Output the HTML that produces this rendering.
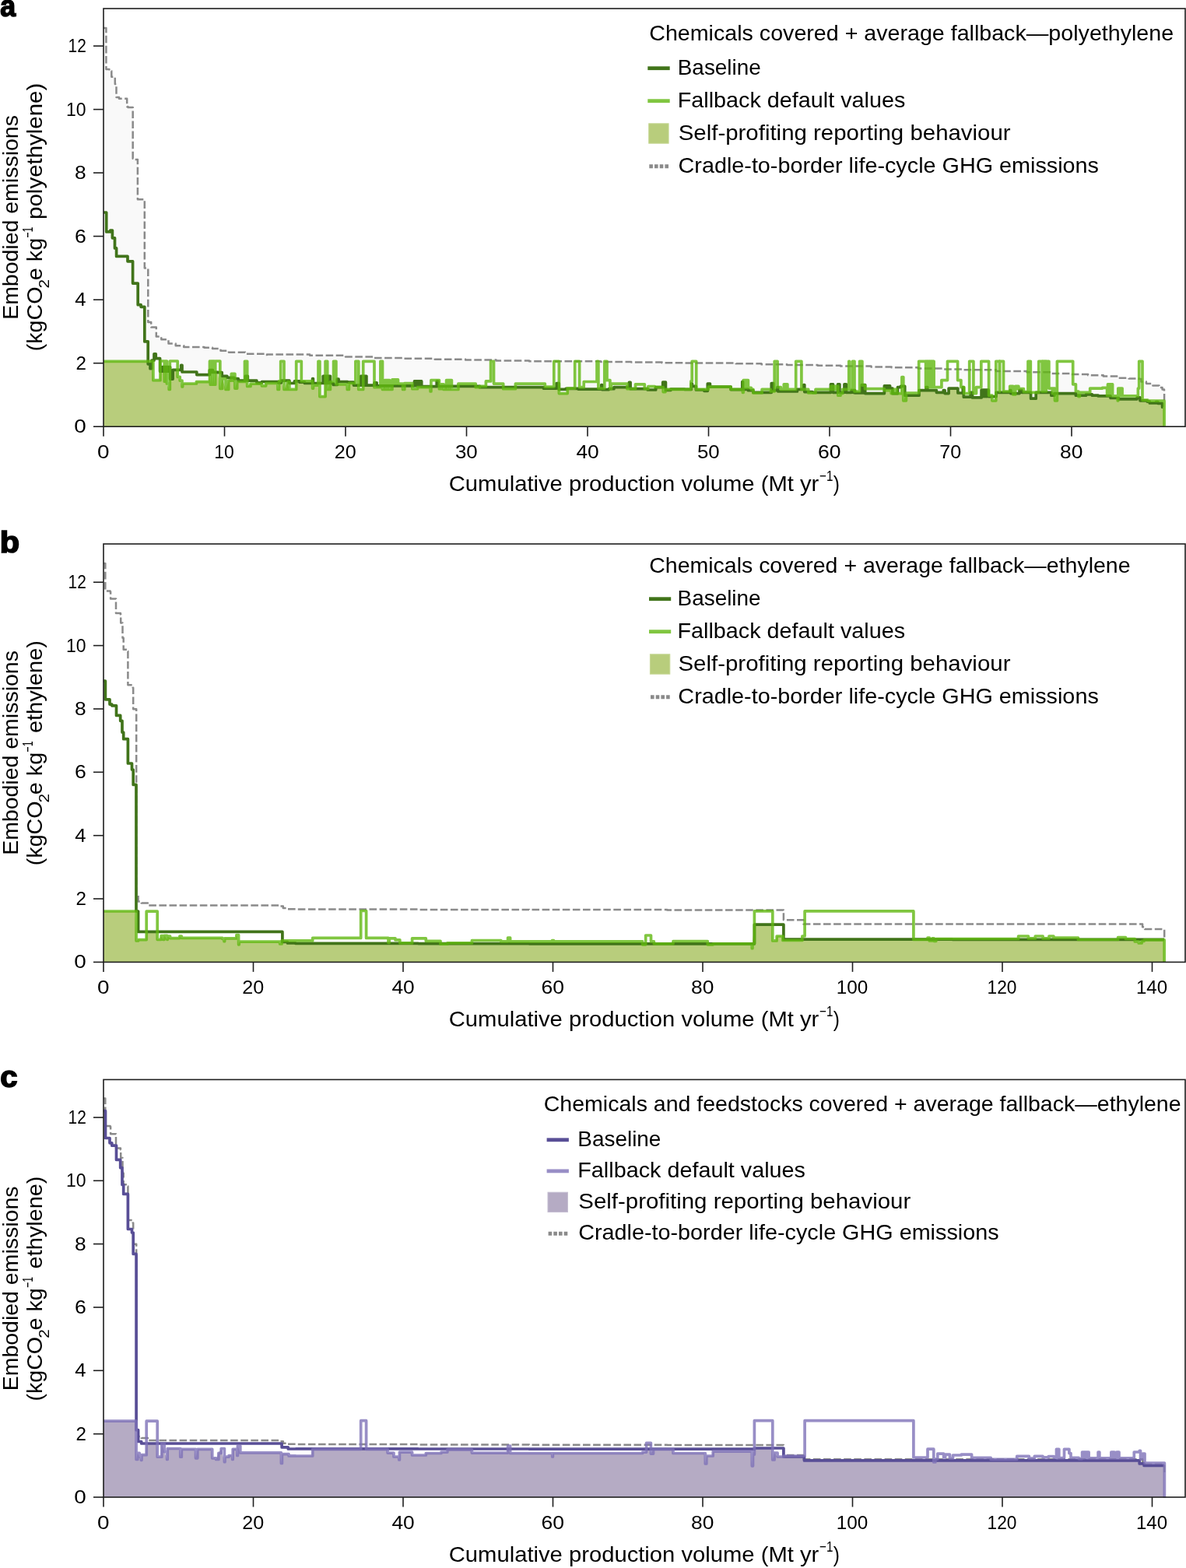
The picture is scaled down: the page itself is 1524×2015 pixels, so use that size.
<!DOCTYPE html>
<html lang="en"><head><meta charset="utf-8"><title>Embodied emissions vs cumulative production volume</title>
<style>html,body{margin:0;padding:0;background:#fff}svg{display:block}text{font-family:"Liberation Sans", Arial, sans-serif;fill:#000}</style></head><body>
<svg width="1524" height="2015" viewBox="0 0 1524 2015">
<rect width="1524" height="2015" fill="#fff"/>
<g>
<path d="M133 36H136.4V89.1H140.4V91.3H143.3V98.8H147.8V107.9H149.5V125H153V126.7H163.2V137H164.4V138.1H170.7V203.8H172.9V204.9H176.9V256.3H185.8V344.4H190.3V414H194.2V420.6H200.8V432.4H207.3V436.3H216.5V441.5H225.7V444.2H236.2V446H262.5V446.8H273V448.1H283.5V450.7H294V452.8H315V454.7H341.2V456H343V455.5H398.1V456.8H444V458.4H480V459.9H519.4V460.7H558.7V461.7H598.1V462.6H637.5V463.6H680V464.3H771.9V464.9H811.2V465.6H850.6V466.2H880V466.5H945.6V467.3H978.4V468.2H1011.2V468.9H1050.6V469.7H1080V470.4H1119.4V471.5H1145.6V472.2H1179.7V473.5H1211.2V474.4H1237.5V475.2H1280V477H1319.4V478.3H1350.9V480H1374.5V481.1H1398.1V482.3H1417.8V483.6H1437.5V485.7H1450.6V486.6H1463.7V487H1466.4V490.5H1472.9V492.5H1473.2V493.1H1481.4V495.6H1489.5V498H1493.6V500.4H1496V502.9H1496.1V514.3H1496.1 V548.2 H133 Z" fill="#f9f9f9"/>
<path d="M133 548.2L133 464.3L188.7 464.3L190.2 467.8L193 473.7L195 464.3L196.9 488.7L204.5 488.7L206 477.2L208.7 471.7L210.9 477.2L211.3 490.2L212.1 471.7L213.3 477.2L213.9 471.7L214.4 493L217.2 500.5L218.3 471.7L218.6 487.1L222.1 475.3L226.7 475.3L228.2 484.3L231.2 489.1L234 496.9L234.6 493L250.9 493L252.4 490.6L268 490.6L269.5 475.7L270.3 494.2L271.5 478.4L271.6 475.7L272.9 494.2L274.3 478.4L275.5 494.2L276.7 478.4L280 478.7L282.8 499.3L285.7 486.7L290 500.5L293.7 489.1L297.3 485.3L299.3 489.1L299.9 485.3L301 486.6L301.9 499.1L304.7 490.5L313 490.5L314.5 489.2L315.2 483.3L317.7 496.4L322 493.1L334.9 493.1L336.4 495.8L340.2 495.8L341.7 492.5L355.5 492.5L357 500.4L358.5 491.8L361.4 489.2L365 500.4L369.2 490.5L371.9 500.4L379.2 500.4L380.7 489.9L385 491.2L390 491.2L391.5 492.5L400.1 492.5L401.6 499.1L402.5 495.1L407.5 495.1L409 492.5L410.9 509.6L416.6 509.6L418.1 483.3L419.5 492.5L420.1 483.3L420.7 500.4L424.4 492.5L428.3 494.5L431.8 494.5L433.3 493.8L444.8 493.8L446.3 500.4L448.4 492.5L453 492.5L454.5 495.1L459.3 495.1L460.8 500.4L465.2 500.4L466.7 483.3L468.2 495.1L468.8 483.3L470.9 495.1L479.5 495.1L481 497.7L487.4 497.7L488.9 495.8L491.5 500.4L494.4 495.8L496.2 500.4L496.8 495.8L498.2 500.4L498.8 495.8L500.6 500.4L504 495.8L516.1 495.8L517.6 500.4L519.8 495.8L528.4 495.8L529.9 499.7L534.9 499.7L536.4 497.7L551.6 497.7L553.1 503L553.9 496.7L559.7 496.7L561.2 489.9L562.9 496.4L564.4 499.7L564.9 496.4L567.2 499.7L567.8 496.4L570.1 500.4L573.6 496.4L575.6 500.4L576.2 496.4L577.8 500.4L578.4 496.4L580.4 500.4L587.4 500.4L588.9 496.4L609.7 496.4L611.2 497.7L645.2 497.7L646.7 499.7L660.9 499.7L662.4 497.7L696.9 497.7L698.4 499.1L713.7 499.1L715.2 492.5L718.3 500.4L718.4 505.6L727.7 505.6L729.2 499.3L741.5 499.3L743 500.1L771.3 500.1L772.8 499.1L773.6 500.6L780.9 500.6L782.4 499.7L787.4 499.7L788.9 497.7L804.5 497.7L806 499.7L830.7 499.7L832.2 501L841.2 501L842.7 497.7L850.2 497.7L851.7 497.5L852.2 503.6L855 500.4L855.4 501.4L860.3 501.4L861.8 500.4L886.8 500.4L888.3 493.1L889.4 496.4L892.9 496.4L894.4 501L903.4 501L904.9 502.3L909.3 500.4L910.2 497.1L937.6 497.1L939.1 500.6L952.2 500.6L953.8 500.4L954.4 504.3L955.2 500.4L959.9 500.4L961.4 501.7L966.4 501.7L967.9 505L977.6 505L979.1 504.3L989.8 504.3L991.3 503L995.2 501.7L999 497.7L999.8 503L1022.9 503L1024.4 500.4L1032.3 500.4L1033.8 503.6L1037.3 503.6L1038.8 505L1046.5 505L1048 504.3L1066 504.3L1067.5 500.4L1067.7 496.4L1069.7 500.4L1070.3 496.4L1070.5 504.3L1075.1 504.3L1076.6 496.4L1076.9 508.2L1080 505.6L1082.6 504.3L1085 500.4L1087.4 504.3L1092.7 504.3L1094.2 501.7L1096.1 504.3L1096.7 501.7L1098 503L1098.6 505L1105.8 505L1107.3 494.5L1107.9 495.1L1109.2 505L1109.8 495.1L1111.5 499.7L1111.7 505.6L1134.9 505.6L1136.4 501.7L1143.7 501.7L1145.2 505.6L1157.4 505.6L1158.9 496.4L1160.8 514.8L1164.4 508.2L1179.5 508.2L1181 501.7L1188.5 501.7L1190 497.7L1190.5 497.7L1191.8 501.7L1201.9 501.7L1203.4 504.3L1210.8 504.3L1212.3 501.7L1214.1 505.6L1217.6 505.6L1219.1 499.1L1229.4 499.1L1230.9 505L1235.8 505L1237.3 497.7L1238.3 510.2L1245.6 510.2L1247.1 504.3L1249.5 510.9L1259.6 510.9L1261.1 501L1263.1 509.6L1263.7 501L1265.4 509.6L1266 501L1267.7 509.6L1268.3 501L1270.3 509.6L1273.4 509.6L1274.9 514.8L1278.3 514.8L1279.8 509.6L1280 504.3L1296.5 504.3L1298 501.7L1298.8 505.6L1301.9 506.9L1304.7 505.6L1308.5 505.6L1310 501.7L1313 504.3L1323.1 504.3L1324.6 512.2L1329.7 512.2L1331.2 504.3L1349.4 504.3L1350.9 508.2L1354.8 505.6L1355.5 514.8L1358.4 505.6L1380.9 505.6L1382.4 508.2L1385.9 509.6L1387.4 508.2L1394 508.2L1395.5 506.9L1401.9 506.9L1403.4 508.2L1409.7 508.2L1411.2 508.9L1425.5 508.9L1427 511.5L1434.7 511.5L1436.2 514.8L1436.8 511.5L1437.5 512.8L1459.6 512.8L1461.1 510.9L1465 514.8L1472.7 514.8L1474.2 516.1L1477.3 517.9L1483.9 517.9L1485.4 516.7L1487.9 518.3L1492.1 518.3L1493.6 523.2L1496 523.2L1496 548.2Z" fill="#b8cd7c"/>
<path d="M133 36H136.4V89.1H140.4V91.3H143.3V98.8H147.8V107.9H149.5V125H153V126.7H163.2V137H164.4V138.1H170.7V203.8H172.9V204.9H176.9V256.3H185.8V344.4H190.3V414H194.2V420.6H200.8V432.4H207.3V436.3H216.5V441.5H225.7V444.2H236.2V446H262.5V446.8H273V448.1H283.5V450.7H294V452.8H315V454.7H341.2V456H343V455.5H398.1V456.8H444V458.4H480V459.9H519.4V460.7H558.7V461.7H598.1V462.6H637.5V463.6H680V464.3H771.9V464.9H811.2V465.6H850.6V466.2H880V466.5H945.6V467.3H978.4V468.2H1011.2V468.9H1050.6V469.7H1080V470.4H1119.4V471.5H1145.6V472.2H1179.7V473.5H1211.2V474.4H1237.5V475.2H1280V477H1319.4V478.3H1350.9V480H1374.5V481.1H1398.1V482.3H1417.8V483.6H1437.5V485.7H1450.6V486.6H1463.7V487H1466.4V490.5H1472.9V492.5H1473.2V493.1H1481.4V495.6H1489.5V498H1493.6V500.4H1496V502.9H1496.1V514.3" fill="none" stroke="#8a8a8a" stroke-width="2.5" stroke-dasharray="9.6 3.5" stroke-linejoin="round"/>
<path d="M133.1 273H136.7V297.9H141.7V296.1H144.4V305.8H147.5V318.9H149.6V329.4H164V335.8H170.6V364.1H177.2V391.7H181.1V394.3H185.8V438.9H190.2V467.8H193V473.7H195V463.1H198V454.8H200.2V460.7H205.6V477.2H208.7V471.7H210.9V477.2H211.5V471.7H213.3V477.2H213.9V471.7H215.8V477.2H216.4V471.7H218.6V487.1H222.1V475.3H232.7V469.4H234V478H252.8V481.6H269.3V475.7H271.1V478.4H271.6V475.7H273.4V478.4H280V478.7H285.2V483.3H291.8V485.3H301V486.6H306.2V489.2H315.2V483.3H318.3V489.2H329.9V491.8H336.4V490.5H357.4V491.8H361.4V489.2H371.9V492.5H378.4V489.9H385V491.2H391.5V492.5H401.6V486.6H402.4V492.5H415.2V483.3H417.2V492.5H417.8V483.3H419.5V492.5H420.1V483.3H421.8V492.5H422.4V483.3H424.4V492.5H428.3V494.5H433.3V487.2H435.1V490.5H446.7V491.2H454.5V495.1H463.7V483.3H465.8V495.1H466.4V483.3H468.2V495.1H468.8V483.3H470.9V495.1H481.1V491.8H484.1V495.8H532.5V489.9H534.5V495.8H535.1V489.9H536.8V495.8H537.4V489.9H539.1V495.8H539.7V489.9H541.7V496.7H553.5H561.2V489.9H562.9V496.4H616.5V497.7H680H698.4V499.1H715.2V492.5H718.3V500.4H727.2V499.3H743V500.1H772.8V494.5H773.6V500.6H782.4V499.7H788.9V497.7H808.4V491.4H810.1V499.7H832.2V501H842.7V497.7H851.7V491.2H853.2V497.7H853.9V491.2H855.4V501.4H861.8V500.1H880V500.4H888.3V493.1H889.4V496.4H894.4V501H904.9V502.3H909.3V493.1H912.4V497.1H939.1V500.6H953.8V490.5H954.5V500.4H961.4V501.7H967.9V504.3H991.3V492.5H993.7V501.7H999V497.7H999.8V503H1024.4V500.4H1032.7V494.5H1033.8V503.6H1044V504.3H1067.5V493.8H1070.5V504.3H1076.6V493.8H1078.9V504.3H1085V493.8H1087.4V504.3H1094.2V501.7H1096.1V504.3H1096.7V501.7H1098.6V505H1107.3V494.5H1109.2V505H1109.8V494.5H1111.7V505.6H1136.4V495.8H1138.5V499.1H1139.1V495.8H1140.9V499.1H1141.5V495.8H1143.6V499.1H1146.9V505.6H1153.5V497.7H1157.4V496.4H1162.7V508.2H1181V501.7H1190V497.7H1191.8V501.7H1203.4V504.3H1212.3V501.7H1214.1V505.6H1219.1V499.1H1230.9V505H1237.3V497.7H1238.3V510.2H1247.1V504.3H1249.5V510.9H1261.1V501H1263.1V509.6H1263.7V501H1265.4V509.6H1266V501H1267.7V509.6H1268.3V501H1270.3V509.6H1280V504.3H1298V501.7H1298.8V505.6H1310V501.7H1313V504.3H1324.6V512.2H1331.2V504.3H1350.9V508.2H1354.8V505.6H1382.4V508.2H1395.5V506.9H1403.4V508.2H1411.2V508.9H1427V511.5H1437.5V512.8H1461.1V510.9H1465V514.8H1474.2V516.1H1477.3V517.9H1485.4V516.7H1487.9V518.3H1493.6V523.2H1494.4" fill="none" stroke="#41741a" stroke-width="3.7" stroke-linejoin="round"/>
<path d="M133 464.3H196.9V488.7H206V464H211.3V490.2H212.1V464H214.4V493H217.2V500.5H218.3V464H228.2V484.3H231.2V489.1H234V496.9H234.6V493H252.4V490.6H269.5V464H270.3V494.2H271.5V464H272.9V494.2H274.3V464H275.5V494.2H276.7V464H282.8V499.3H285.7V486.7H290V500.5H293.7V489.1H297.3V480.4H299.3V489.1H299.9V480.4H301.9V499.1H304.7V490.5H314.5V464.3H317.7V496.4H322V493.1H336.4V495.8H341.7V492.5H357V500.4H358.5V489.9H360.7V464.3H365V500.4H369.2V490.5H371.9V500.4H380.7V464.3H387.3V489.9H401.6V499.1H402.5V495.1H409V464.3H410.9V509.6H418.1V464.3H420.7V500.4H424.4V490.5H428.6V464.3H431.9V493.8H446.3V500.4H448.4V492.5H456.9V464.3H460.8V500.4H466.7V464.3H481V497.7H488.9V464.3H491.5V500.4H494.4V488.6H496.2V500.4H496.8V488.6H498.2V500.4H498.8V488.6H500.6V500.4H504V487.9H506.2V493.1H506.8V487.9H508.7V493.1H509.3V487.9H511.5V493.1H517.6V500.4H519.8V492.5H529.9V499.7H536.4V497.7H553.1V503H553.9V488.6H564.4V499.7H564.9V493.8H567.2V499.7H567.8V493.8H570.1V500.4H573.6V488.6H575.6V500.4H576.2V488.6H577.8V500.4H578.4V488.6H580.4V500.4H588.9V493.1H611.2V497.7H616.5V496.4H624.4V489.9H630.6V464.3H634.5V493.1H646.7V499.7H662.4V493.1H680H700.3V497.1H711.8V464.3H718.4V505.6H729.2V499.1H738.7V464.3H744.6V497.7H750.2V490.5H767V464.3H768.9V499.1H776.8V464.3H780V488.6H783.9V499.7H785.4V493.1H806V499.7H816.5V493.8H828.3V499.7H832.9V496.7H841.4V497.5H852.2V503.6H855V500.4H880H887.9V489.9H889.2V464.3H894.7V500.4H910.2V497.1H939.1V500.4H954.4V504.3H955.2V488.6H957V498.4H957.6V488.6H959V498.4H959.6V488.6H961.4V498.4H965.3V500.4H967.9V505H979.1V500.4H990.2V503H995.2V464.3H999.1V497.7H1003.4V500.4H1007.3V493.8H1009.3V500.4H1009.9V493.8H1011.9V500.4H1022.7V464.3H1029.9V500.4H1038.8V505H1048V500.4H1067.7V496.4H1069.7V500.4H1070.3V496.4H1072V500.4H1072.6V496.4H1074.3V500.4H1074.9V496.4H1076.9V508.2H1080V505.6H1082.6V500.4H1090.8V464.3H1091.5V500.4H1095.4V464.3H1098V503H1104.6V464.3H1107.9V495.1H1111.5V499.7H1136.4V501.7H1145.2V505.6H1148.7V500.4H1150.2V505.6H1150.8V500.4H1152.2V505.6H1158.9V484.6H1160.8V514.8H1164.4V505H1180.7V464.3H1187.6H1188.3H1189.6V497.7H1190.5V464.3H1191.8V497.7H1192.7V464.3H1194V497.7H1194.9V464.3H1196.2V497.7H1197.1V464.3H1198.4V497.7H1199.3V464.3H1200.1V497.7H1204.7V497.7H1209.9V488.6H1217.5V464.3H1230.6V488.6H1234.9V497.7H1238.8V505.6H1245.7V464.3H1250.9V505.6H1254.5V497.7H1260.8V464.3H1270.6V508.2H1274.9V514.8H1279.8V464.3H1284.3V503H1284.7V464.3H1289.5V503H1297.7V496.4H1299.5V503H1300.1V496.4H1301.9V506.9H1304.7V496.4H1306.5V499.7H1307.1V496.4H1308.9V499.7H1315.4V503.6H1321V464.3H1324.3V504.3H1334.8V464.3H1337.7H1339.1V503H1339.9V464.3H1341.3V503H1342.1V464.3H1343.5V503H1344.3V464.3H1347.9V499.1H1352.4V505.6H1353.2V499.1H1355.5V514.8H1358.4V464.3H1378.7V493.8H1382.4V503H1385.9V509.6H1387.4V504.3H1400.7V499.1H1416.5V498.4H1422.6V508.2H1423.5V493.8H1425.2V508.2H1425.8V493.8H1427.3V508.2H1427.9V493.8H1429.6V508.9H1436.2V514.8H1436.8V499.1H1439.2V508.9H1439.8V499.1H1442.1V508.9H1462.4V499.1H1463.7V464.3H1468V514.1H1474.9V515.1H1496H1496.1V547.8" fill="none" stroke="#60b810" stroke-opacity="0.8" stroke-width="3.7" stroke-linejoin="round"/>
<rect x="133" y="11" width="1390" height="537.2" fill="none" stroke="#1f1f1f" stroke-width="1.6"/>
<path d="M120 548.2H133" stroke="#1f1f1f" stroke-width="1.6"/>
<text x="95.18" y="556.2" font-size="24.4" textLength="15.53" lengthAdjust="spacingAndGlyphs">0</text>
<path d="M120 466.7H133" stroke="#1f1f1f" stroke-width="1.6"/>
<text x="97.49" y="474.68" font-size="24.4" textLength="13.45" lengthAdjust="spacingAndGlyphs">2</text>
<path d="M120 385.2H133" stroke="#1f1f1f" stroke-width="1.6"/>
<text x="96.19" y="393.16" font-size="24.4" textLength="14.32" lengthAdjust="spacingAndGlyphs">4</text>
<path d="M120 303.6H133" stroke="#1f1f1f" stroke-width="1.6"/>
<text x="95.97" y="311.64" font-size="24.4" textLength="14.83" lengthAdjust="spacingAndGlyphs">6</text>
<path d="M120 222.1H133" stroke="#1f1f1f" stroke-width="1.6"/>
<text x="96.11" y="230.12" font-size="24.4" textLength="14.67" lengthAdjust="spacingAndGlyphs">8</text>
<path d="M120 140.6H133" stroke="#1f1f1f" stroke-width="1.6"/>
<text x="84.98" y="148.6" font-size="24.4" textLength="25.58" lengthAdjust="spacingAndGlyphs">10</text>
<path d="M120 59.1H133" stroke="#1f1f1f" stroke-width="1.6"/>
<text x="87.53" y="67.08" font-size="24.4" textLength="23.26" lengthAdjust="spacingAndGlyphs">12</text>
<path d="M133 548.2V560.7" stroke="#1f1f1f" stroke-width="1.6"/>
<text x="125.08" y="589.1" font-size="24.4" textLength="15.53" lengthAdjust="spacingAndGlyphs">0</text>
<path d="M288.5 548.2V560.7" stroke="#1f1f1f" stroke-width="1.6"/>
<text x="275.17" y="589.1" font-size="24.4" textLength="25.58" lengthAdjust="spacingAndGlyphs">10</text>
<path d="M444 548.2V560.7" stroke="#1f1f1f" stroke-width="1.6"/>
<text x="429.74" y="589.1" font-size="24.4" textLength="28" lengthAdjust="spacingAndGlyphs">20</text>
<path d="M599.5 548.2V560.7" stroke="#1f1f1f" stroke-width="1.6"/>
<text x="584.96" y="589.1" font-size="24.4" textLength="28.8" lengthAdjust="spacingAndGlyphs">30</text>
<path d="M755 548.2V560.7" stroke="#1f1f1f" stroke-width="1.6"/>
<text x="740.47" y="589.1" font-size="24.4" textLength="29.31" lengthAdjust="spacingAndGlyphs">40</text>
<path d="M910.5 548.2V560.7" stroke="#1f1f1f" stroke-width="1.6"/>
<text x="896.02" y="589.1" font-size="24.4" textLength="28.7" lengthAdjust="spacingAndGlyphs">50</text>
<path d="M1066 548.2V560.7" stroke="#1f1f1f" stroke-width="1.6"/>
<text x="1050.97" y="589.1" font-size="24.4" textLength="29.52" lengthAdjust="spacingAndGlyphs">60</text>
<path d="M1221.5 548.2V560.7" stroke="#1f1f1f" stroke-width="1.6"/>
<text x="1207.3" y="589.1" font-size="24.4" textLength="27.89" lengthAdjust="spacingAndGlyphs">70</text>
<path d="M1377 548.2V560.7" stroke="#1f1f1f" stroke-width="1.6"/>
<text x="1362.11" y="589.1" font-size="24.4" textLength="29.37" lengthAdjust="spacingAndGlyphs">80</text>
<text xml:space="preserve"><tspan x="576.74" y="631" font-size="28" textLength="475.62" lengthAdjust="spacingAndGlyphs">Cumulative production volume (Mt yr</tspan><tspan x="1053.04" y="618.2" font-size="19" textLength="17.35" lengthAdjust="spacingAndGlyphs">−1</tspan><tspan x="1070.78" y="631" font-size="28" textLength="8.17" lengthAdjust="spacingAndGlyphs">)</tspan></text>
<g transform="translate(22.9 408.6) rotate(-90)"><text x="-2.28" y="0" font-size="28" textLength="262.73" lengthAdjust="spacingAndGlyphs">Embodied emissions</text></g>
<text xml:space="preserve" transform="translate(54 449.6) rotate(-90)"><tspan x="-1.72" y="0" font-size="28" textLength="82.73" lengthAdjust="spacingAndGlyphs">(kgCO</tspan><tspan x="79.06" y="9.2" font-size="19" textLength="11.61" lengthAdjust="spacingAndGlyphs">2</tspan><tspan x="89.35" y="0" font-size="28" textLength="54.43" lengthAdjust="spacingAndGlyphs">e kg</tspan><tspan x="144.09" y="-12" font-size="19" textLength="13.86" lengthAdjust="spacingAndGlyphs">−1</tspan><tspan x="159.54" y="0" font-size="28" textLength="183.36" lengthAdjust="spacingAndGlyphs"> polyethylene)</tspan></text>
<text x="0.33" y="20.8" font-size="38" textLength="19.86" lengthAdjust="spacingAndGlyphs" font-weight="bold" stroke="#000" stroke-width="1.6" stroke-linejoin="miter">a</text>
<text x="834.27" y="52.3" font-size="28" textLength="673.85" lengthAdjust="spacingAndGlyphs">Chemicals covered + average fallback—polyethylene</text>
<text x="870.77" y="95.9" font-size="28" textLength="107.02" lengthAdjust="spacingAndGlyphs">Baseline</text>
<text x="870.7" y="137.9" font-size="28" textLength="292.64" lengthAdjust="spacingAndGlyphs">Fallback default values</text>
<text x="871.68" y="179.9" font-size="28" textLength="426.98" lengthAdjust="spacingAndGlyphs">Self-profiting reporting behaviour</text>
<text x="871.56" y="221.9" font-size="28" textLength="540.41" lengthAdjust="spacingAndGlyphs">Cradle-to-border life-cycle GHG emissions</text>
<path d="M832.3 87.7H860.7" stroke="#41741a" stroke-width="4.8"/>
<path d="M832.3 129.7H860.7" stroke="#60b810" stroke-opacity="0.8" stroke-width="4.8"/>
<rect x="833.7" y="158.8" width="25.4" height="25.4" fill="#b8cd7c" stroke="#c6d795" stroke-width="1"/>
<path d="M834.3 213.8H860.7" stroke="#8a8a8a" stroke-width="5" stroke-dasharray="4.6 2.1"/>
</g>
<g>
<path d="M133 1236.4L133 1171L173.6 1171L175.1 1208.9L177.6 1207.6L186.7 1207.6L188.2 1197.4L200.7 1197.4L202.2 1207.3L205.6 1207.3L207.1 1202.7L209.6 1207.3L211.1 1202.3L214.8 1207.3L215.3 1203.2L218.6 1205.6L229.4 1205.6L230.9 1203.2L233.3 1205.3L284.3 1205.3L285.8 1206.4L288 1209.7L288.6 1205.9L302.4 1205.9L303.9 1201.5L306.6 1213.8L307.2 1210.2L358.2 1210.2L359.7 1213L362.1 1208.9L362.9 1210.5L368 1210.5L369.5 1211.9L378.5 1211.9L380 1212.4L536 1212.4L537.5 1212.6L564.5 1212.6L566 1213.2L573.4 1213.2L574.9 1212.6L678.5 1212.6L680 1212.8L824.1 1212.8L825.6 1213.8L829.7 1212.8L907.8 1212.8L909.3 1213.8L914.7 1213.8L916.2 1212.8L964.8 1212.8L966.3 1218.7L966.9 1212.8L969.4 1188.2L991.3 1188.2L992.8 1208.9L996.6 1208.9L998.1 1203L1004.4 1203L1005.9 1208.5L1029.4 1208.5L1030.9 1207.1L1172.4 1207.1L1173.9 1207.5L1190.5 1207.5L1192 1207.1L1194.3 1208.9L1197.9 1207.1L1200.2 1209.3L1202.8 1207.1L1222.5 1207.1L1224 1207.3L1383.9 1207.3L1385.4 1207.5L1435.1 1207.5L1436.6 1207.3L1456.8 1207.3L1458.3 1209.9L1461.7 1209.9L1463.2 1211.9L1467.1 1209.3L1470.1 1207.9L1494.5 1207.9L1496 1207.9L1496 1236.4Z" fill="#b8cd7c"/>
<path d="M133 724H135.3V759.4H141.6V760.5H142.1V769.6H149V787.9H154.9V789.6H155.2V800.4H157.5V819.8H158.7V834.7H163.8V837H164.4V880.3H170.7V883.8H171.2V911.2H175H175.2V928.3H175.2V1151H177.6V1158.5H181.7V1160.5H189.9V1163.5H360.5V1164.6H363.8V1167.1H369.5V1168.2H380V1168.5H537.5V1168.9H680V1169.1H857.2V1169.5H940H1006.9V1182.3H1032.5V1187.6H1224H1468.1V1191.2H1471V1194.1H1496H1496.2V1205.9" fill="none" stroke="#8a8a8a" stroke-width="2.5" stroke-dasharray="9.6 3.5" stroke-linejoin="round"/>
<path d="M133.1 875.2H135.4V898.8H141V905.1H143.8V906.8H149.5V919.4H154.7V926.3H157V941.1H158.7V949.7H164.4V981H169.5V989H171.2V1008.4H175V1171H177.6V1197.4H362.9V1210.5H369.5V1211.9H380V1212.4H537.5V1212.6H680V1212.8H969.4V1188.2H969.5H1006.9V1207.1H1224V1207.3H1496" fill="none" stroke="#41741a" stroke-width="3.7" stroke-linejoin="round"/>
<path d="M133 1171H175.1V1208.9H177.6V1207.6H188.2V1171.2H202.2V1207.3H207.1V1202.7H209.6V1207.3H211.1V1202.3H214.8V1207.3H215.3V1203.2H218.6V1205.6H230.9V1203.2H233.3V1205.3H285.8V1206.4H288V1209.7H288.6V1205.9H303.9V1201.5H306.6V1213.8H307.2V1210.2H359.7V1213H362.1V1208.9H380H401.7V1205.4H463.7V1170.5H470.6V1205.4H499V1211.3H500.2V1205.9H508V1207.9H513.9V1211.9H529.6V1205.9H547.3V1209.3H566V1213.2H574.9V1211.9H606.4V1208.5H643.8V1209.9H652.6V1205H655.6V1209.9H680H709.5V1208.5H711.5V1209.9H825.6V1213.8H829.7V1202H836.5V1209.9H840.4V1212.8H865V1209.5H909.3V1213.8H916.2V1212.8H966.3V1218.7H966.9V1212.8H969.4V1170.9H969.5H992.8V1208.9H998.1V1203H1005.9V1208.5H1030.9V1203H1034.1V1170.9H1173.9V1207.5H1192V1205H1194.3V1208.9H1197.9V1205.9H1200.2V1209.3H1202.8V1206.5H1224H1308.6V1203H1321.4V1205.9H1330.3V1203H1340.1V1205.9H1348V1203H1353.9V1205H1385.4V1207.5H1436.6V1204.6H1446.4V1206.5H1458.3V1209.9H1463.2V1211.9H1467.1V1209.3H1470.1V1207.9H1496H1496.2V1236.5" fill="none" stroke="#60b810" stroke-opacity="0.8" stroke-width="3.7" stroke-linejoin="round"/>
<rect x="133" y="699" width="1390" height="537.4" fill="none" stroke="#1f1f1f" stroke-width="1.6"/>
<path d="M120 1236.4H133" stroke="#1f1f1f" stroke-width="1.6"/>
<text x="95.18" y="1244.4" font-size="24.4" textLength="15.53" lengthAdjust="spacingAndGlyphs">0</text>
<path d="M120 1155H133" stroke="#1f1f1f" stroke-width="1.6"/>
<text x="97.49" y="1163.04" font-size="24.4" textLength="13.45" lengthAdjust="spacingAndGlyphs">2</text>
<path d="M120 1073.7H133" stroke="#1f1f1f" stroke-width="1.6"/>
<text x="96.19" y="1081.68" font-size="24.4" textLength="14.32" lengthAdjust="spacingAndGlyphs">4</text>
<path d="M120 992.3H133" stroke="#1f1f1f" stroke-width="1.6"/>
<text x="95.97" y="1000.32" font-size="24.4" textLength="14.83" lengthAdjust="spacingAndGlyphs">6</text>
<path d="M120 911H133" stroke="#1f1f1f" stroke-width="1.6"/>
<text x="96.11" y="918.96" font-size="24.4" textLength="14.67" lengthAdjust="spacingAndGlyphs">8</text>
<path d="M120 829.6H133" stroke="#1f1f1f" stroke-width="1.6"/>
<text x="84.98" y="837.6" font-size="24.4" textLength="25.58" lengthAdjust="spacingAndGlyphs">10</text>
<path d="M120 748.2H133" stroke="#1f1f1f" stroke-width="1.6"/>
<text x="87.53" y="756.24" font-size="24.4" textLength="23.26" lengthAdjust="spacingAndGlyphs">12</text>
<path d="M133 1236.4V1248.9" stroke="#1f1f1f" stroke-width="1.6"/>
<text x="125.08" y="1277.3" font-size="24.4" textLength="15.53" lengthAdjust="spacingAndGlyphs">0</text>
<path d="M325.5 1236.4V1248.9" stroke="#1f1f1f" stroke-width="1.6"/>
<text x="311.24" y="1277.3" font-size="24.4" textLength="28" lengthAdjust="spacingAndGlyphs">20</text>
<path d="M518 1236.4V1248.9" stroke="#1f1f1f" stroke-width="1.6"/>
<text x="503.47" y="1277.3" font-size="24.4" textLength="29.31" lengthAdjust="spacingAndGlyphs">40</text>
<path d="M710.5 1236.4V1248.9" stroke="#1f1f1f" stroke-width="1.6"/>
<text x="695.47" y="1277.3" font-size="24.4" textLength="29.52" lengthAdjust="spacingAndGlyphs">60</text>
<path d="M903 1236.4V1248.9" stroke="#1f1f1f" stroke-width="1.6"/>
<text x="888.11" y="1277.3" font-size="24.4" textLength="29.37" lengthAdjust="spacingAndGlyphs">80</text>
<path d="M1095.5 1236.4V1248.9" stroke="#1f1f1f" stroke-width="1.6"/>
<text x="1074.68" y="1277.3" font-size="24.4" textLength="40.56" lengthAdjust="spacingAndGlyphs">100</text>
<path d="M1288 1236.4V1248.9" stroke="#1f1f1f" stroke-width="1.6"/>
<text x="1268.49" y="1277.3" font-size="24.4" textLength="37.98" lengthAdjust="spacingAndGlyphs">120</text>
<path d="M1480.5 1236.4V1248.9" stroke="#1f1f1f" stroke-width="1.6"/>
<text x="1459.9" y="1277.3" font-size="24.4" textLength="40.13" lengthAdjust="spacingAndGlyphs">140</text>
<text xml:space="preserve"><tspan x="576.74" y="1319.2" font-size="28" textLength="475.62" lengthAdjust="spacingAndGlyphs">Cumulative production volume (Mt yr</tspan><tspan x="1053.04" y="1306.4" font-size="19" textLength="17.35" lengthAdjust="spacingAndGlyphs">−1</tspan><tspan x="1070.78" y="1319.2" font-size="28" textLength="8.17" lengthAdjust="spacingAndGlyphs">)</tspan></text>
<g transform="translate(22.9 1096.6) rotate(-90)"><text x="-2.28" y="0" font-size="28" textLength="262.73" lengthAdjust="spacingAndGlyphs">Embodied emissions</text></g>
<text xml:space="preserve" transform="translate(54 1110.5) rotate(-90)"><tspan x="-1.72" y="0" font-size="28" textLength="82.73" lengthAdjust="spacingAndGlyphs">(kgCO</tspan><tspan x="79.06" y="9.2" font-size="19" textLength="11.61" lengthAdjust="spacingAndGlyphs">2</tspan><tspan x="89.35" y="0" font-size="28" textLength="54.43" lengthAdjust="spacingAndGlyphs">e kg</tspan><tspan x="144.09" y="-12" font-size="19" textLength="13.86" lengthAdjust="spacingAndGlyphs">−1</tspan><tspan x="160.45" y="0" font-size="28" textLength="126.93" lengthAdjust="spacingAndGlyphs"> ethylene)</tspan></text>
<text x="-0.3" y="709.5" font-size="38" textLength="25.4" lengthAdjust="spacingAndGlyphs" font-weight="bold" stroke="#000" stroke-width="1.6" stroke-linejoin="miter">b</text>
<text x="834.28" y="735.9" font-size="28" textLength="618.25" lengthAdjust="spacingAndGlyphs">Chemicals covered + average fallback—ethylene</text>
<text x="870.57" y="777.9" font-size="28" textLength="107.02" lengthAdjust="spacingAndGlyphs">Baseline</text>
<text x="870.5" y="819.9" font-size="28" textLength="292.64" lengthAdjust="spacingAndGlyphs">Fallback default values</text>
<text x="871.48" y="861.9" font-size="28" textLength="426.98" lengthAdjust="spacingAndGlyphs">Self-profiting reporting behaviour</text>
<text x="871.36" y="903.9" font-size="28" textLength="540.41" lengthAdjust="spacingAndGlyphs">Cradle-to-border life-cycle GHG emissions</text>
<path d="M834 769.7H862.2" stroke="#41741a" stroke-width="4.8"/>
<path d="M834 811.7H862.2" stroke="#60b810" stroke-opacity="0.8" stroke-width="4.8"/>
<rect x="835.4" y="840.8" width="25.4" height="25.4" fill="#b8cd7c" stroke="#c6d795" stroke-width="1"/>
<path d="M836 895.8H862.2" stroke="#8a8a8a" stroke-width="5" stroke-dasharray="4.6 2.1"/>
</g>
<g>
<path d="M133 1924L133 1826.1L173.6 1826.1L175.1 1875.5L176.8 1867.3L179.2 1872.2L181.4 1876.3L182 1869.7L186.7 1869.7L188.2 1855L200.7 1855L202.2 1872.2L206.4 1872.2L207.9 1855L211.2 1865.6L214.6 1875.5L215.2 1861.5L230.3 1861.5L231.8 1872.2L233.3 1862.3L250 1862.3L251.5 1873.8L253.8 1862.3L271.2 1862.3L272.7 1873.8L276.1 1873.8L277.6 1875.5L280.9 1867.3L284.2 1861.5L288.4 1878.7L289 1872.2L292.5 1872.2L294 1870.5L297.2 1870.5L298.7 1875.5L299.2 1862.3L303.3 1862.3L304.8 1870.5L305.4 1858.2L308.8 1866.9L359.9 1866.9L361.4 1880.4L362.4 1868.6L369.6 1868.6L371.1 1870.9L378.5 1870.9L380 1871L400.2 1871L401.7 1862.4L462.2 1862.4L463.7 1861.8L469.1 1861.8L470.6 1862.4L496.6 1862.4L498.1 1867.1L504.5 1867.1L506 1872L511.3 1872L512.8 1875.9L513.4 1866.1L528.1 1866.1L529.6 1870L545.8 1870L547.3 1867.5L565.5 1867.5L567 1866.1L573.4 1866.1L574.9 1862.8L604.9 1862.8L606.4 1867.1L651.1 1867.1L652.6 1862L655.6 1867.5L708.3 1867.5L709.8 1872L710.4 1867.5L824.2 1867.5L825.7 1866.1L829.1 1866.1L830.6 1862.2L834.9 1862.2L836.4 1868.1L839.5 1862.4L863.5 1862.4L865 1867.5L904.8 1867.5L906.3 1880.9L907.8 1871L914.7 1871L916.2 1865.1L964.8 1865.1L966.3 1883.8L967.5 1869.1L969.4 1861L991.3 1861L992.8 1875.9L995.1 1867.1L999.1 1872L1032 1872L1033.5 1876.9L1198.3 1876.9L1199.8 1878.9L1201.9 1876.9L1462.7 1876.9L1464.2 1880.9L1468.6 1880.9L1470.1 1883.4L1494.5 1883.4L1496 1883.4L1496 1924Z" fill="#b5abc4"/>
<path d="M133 1411.6H135.3V1447H141.6V1448.1H142.1V1457.2H149V1475.5H154.9V1477.2H155.2V1488H157.5V1507.4H158.7V1522.3H163.8V1524.6H164.4V1567.9H170.7V1571.4H171.2V1598.8H175H175.2V1615.9H175.2V1838.6H177.6V1846.1H181.7V1848.1H189.9V1851.1H360.5V1852.2H363.8V1854.7H369.5V1855.8H380V1856.1H537.5V1856.5H680V1856.7H857.2V1857.1H940H1006.9V1869.9H1032.5V1875.2H1224H1468.1V1878.8H1471V1881.7H1496H1496.2V1893.5" fill="none" stroke="#8a8a8a" stroke-width="2.5" stroke-dasharray="9.6 3.5" stroke-linejoin="round"/>
<path d="M133 1427.7H135.5V1462.5H141V1468.8H143.8V1472.2H149.5V1490.4H154.7V1500.7H157V1522.4H158.7V1534.4H164.4V1579.5H169.5V1584H171.2V1611.4H175V1612.6H175.1V1837.7H177.6V1852.5H181.7V1855H362.1V1859.9H370.3V1862H380V1861.8H537.5V1862H680V1862.2H969.4V1861H1006.9V1872H1033.5V1876.9H1224H1464.2V1880.9H1470.1V1883.4H1496" fill="none" stroke="#584e96" stroke-width="3.7" stroke-linejoin="round"/>
<path d="M133 1826.1H175.1V1875.5H176.8V1867.3H179.2V1872.2H181.4V1876.3H182V1869.7H188.2V1826.2H202.2V1872.2H207.9V1855H211.2V1865.6H214.6V1875.5H215.2V1861.5H231.8V1872.2H233.3V1862.3H251.5V1873.8H253.8V1862.3H272.7V1873.8H277.6V1875.5H280.9V1867.3H284.2V1861.5H288.4V1878.7H289V1872.2H294V1870.5H298.7V1875.5H299.2V1862.3H304.8V1870.5H305.4V1858.2H308.8V1866.9H361.4V1880.4H362.4V1868.6H371.1V1870.9H380V1871H401.7V1862.4H463.7V1825.7H470.6V1862.4H498.1V1867.1H506V1872H512.8V1875.9H513.4V1866.1H529.6V1870H547.3V1867.5H567V1866.1H574.9V1862.8H606.4V1867.1H652.6V1858.2H655.6V1867.5H680H709.8V1872H710.4V1867.5H825.7V1866.1H830.6V1854.3H836.4V1868.1H839.5V1862.4H865V1867.5H906.3V1880.9H907.8V1871H916.2V1865.1H966.3V1883.8H967.5V1869.1H969.4V1825.7H969.5H992.8V1875.9H995.1V1867.1H999.1V1872H1006.9V1871H1034.1V1825.7H1173.9V1873H1192V1862.2H1199.8V1878.9H1201.9V1875H1204.8V1868.1H1212.6V1873H1214.7V1869.1H1220.4V1874H1224.5V1870H1235.3V1869.1H1248.6V1873.4H1273.2V1875.4H1306.7V1871.4H1322.4V1874H1329.3V1871.4H1340V1872.8H1347.3V1871.5H1354.2V1873.1H1357.5V1862.3H1358.6V1873.9H1359.2V1862.3H1360.8V1873.6H1367.5V1862.3H1373.9V1867.6H1376V1873.3H1386.2V1874.6H1390.6V1866H1393V1873.9H1393.6V1866H1396.8V1873.9H1397.4V1866H1399.1V1873.9H1411.1V1866H1412.8V1873.9H1427.9V1866H1429.6V1873.9H1430.1V1866H1432V1873.9H1434.8V1866H1436.8V1873.9H1437.1V1866H1438V1873.9H1457.3V1866H1464.2V1864.4H1465.5V1874.9H1468.4V1868.1H1471V1880.2H1496.3H1496.4V1924.8" fill="none" stroke="#7e72b8" stroke-opacity="0.8" stroke-width="3.7" stroke-linejoin="round"/>
<rect x="133" y="1387.4" width="1390" height="536.6" fill="none" stroke="#1f1f1f" stroke-width="1.6"/>
<path d="M120 1924H133" stroke="#1f1f1f" stroke-width="1.6"/>
<text x="95.18" y="1932" font-size="24.4" textLength="15.53" lengthAdjust="spacingAndGlyphs">0</text>
<path d="M120 1842.7H133" stroke="#1f1f1f" stroke-width="1.6"/>
<text x="97.49" y="1850.66" font-size="24.4" textLength="13.45" lengthAdjust="spacingAndGlyphs">2</text>
<path d="M120 1761.3H133" stroke="#1f1f1f" stroke-width="1.6"/>
<text x="96.19" y="1769.32" font-size="24.4" textLength="14.32" lengthAdjust="spacingAndGlyphs">4</text>
<path d="M120 1680H133" stroke="#1f1f1f" stroke-width="1.6"/>
<text x="95.97" y="1687.98" font-size="24.4" textLength="14.83" lengthAdjust="spacingAndGlyphs">6</text>
<path d="M120 1598.6H133" stroke="#1f1f1f" stroke-width="1.6"/>
<text x="96.11" y="1606.64" font-size="24.4" textLength="14.67" lengthAdjust="spacingAndGlyphs">8</text>
<path d="M120 1517.3H133" stroke="#1f1f1f" stroke-width="1.6"/>
<text x="84.98" y="1525.3" font-size="24.4" textLength="25.58" lengthAdjust="spacingAndGlyphs">10</text>
<path d="M120 1436H133" stroke="#1f1f1f" stroke-width="1.6"/>
<text x="87.53" y="1443.96" font-size="24.4" textLength="23.26" lengthAdjust="spacingAndGlyphs">12</text>
<path d="M133 1924V1936.5" stroke="#1f1f1f" stroke-width="1.6"/>
<text x="125.08" y="1964.9" font-size="24.4" textLength="15.53" lengthAdjust="spacingAndGlyphs">0</text>
<path d="M325.5 1924V1936.5" stroke="#1f1f1f" stroke-width="1.6"/>
<text x="311.24" y="1964.9" font-size="24.4" textLength="28" lengthAdjust="spacingAndGlyphs">20</text>
<path d="M518 1924V1936.5" stroke="#1f1f1f" stroke-width="1.6"/>
<text x="503.47" y="1964.9" font-size="24.4" textLength="29.31" lengthAdjust="spacingAndGlyphs">40</text>
<path d="M710.5 1924V1936.5" stroke="#1f1f1f" stroke-width="1.6"/>
<text x="695.47" y="1964.9" font-size="24.4" textLength="29.52" lengthAdjust="spacingAndGlyphs">60</text>
<path d="M903 1924V1936.5" stroke="#1f1f1f" stroke-width="1.6"/>
<text x="888.11" y="1964.9" font-size="24.4" textLength="29.37" lengthAdjust="spacingAndGlyphs">80</text>
<path d="M1095.5 1924V1936.5" stroke="#1f1f1f" stroke-width="1.6"/>
<text x="1074.68" y="1964.9" font-size="24.4" textLength="40.56" lengthAdjust="spacingAndGlyphs">100</text>
<path d="M1288 1924V1936.5" stroke="#1f1f1f" stroke-width="1.6"/>
<text x="1268.49" y="1964.9" font-size="24.4" textLength="37.98" lengthAdjust="spacingAndGlyphs">120</text>
<path d="M1480.5 1924V1936.5" stroke="#1f1f1f" stroke-width="1.6"/>
<text x="1459.9" y="1964.9" font-size="24.4" textLength="40.13" lengthAdjust="spacingAndGlyphs">140</text>
<text xml:space="preserve"><tspan x="576.74" y="2006.8" font-size="28" textLength="475.62" lengthAdjust="spacingAndGlyphs">Cumulative production volume (Mt yr</tspan><tspan x="1053.04" y="1994" font-size="19" textLength="17.35" lengthAdjust="spacingAndGlyphs">−1</tspan><tspan x="1070.78" y="2006.8" font-size="28" textLength="8.17" lengthAdjust="spacingAndGlyphs">)</tspan></text>
<g transform="translate(22.9 1785) rotate(-90)"><text x="-2.28" y="0" font-size="28" textLength="262.73" lengthAdjust="spacingAndGlyphs">Embodied emissions</text></g>
<text xml:space="preserve" transform="translate(54 1798.9) rotate(-90)"><tspan x="-1.72" y="0" font-size="28" textLength="82.73" lengthAdjust="spacingAndGlyphs">(kgCO</tspan><tspan x="79.06" y="9.2" font-size="19" textLength="11.61" lengthAdjust="spacingAndGlyphs">2</tspan><tspan x="89.35" y="0" font-size="28" textLength="54.43" lengthAdjust="spacingAndGlyphs">e kg</tspan><tspan x="144.09" y="-12" font-size="19" textLength="13.86" lengthAdjust="spacingAndGlyphs">−1</tspan><tspan x="160.45" y="0" font-size="28" textLength="126.93" lengthAdjust="spacingAndGlyphs"> ethylene)</tspan></text>
<text x="0.2" y="1396.6" font-size="38" textLength="22.25" lengthAdjust="spacingAndGlyphs" font-weight="bold" stroke="#000" stroke-width="1.6" stroke-linejoin="miter">c</text>
<text x="698.77" y="1428.1" font-size="28" textLength="818.84" lengthAdjust="spacingAndGlyphs">Chemicals and feedstocks covered + average fallback—ethylene</text>
<text x="742.37" y="1473" font-size="28" textLength="107.02" lengthAdjust="spacingAndGlyphs">Baseline</text>
<text x="742.3" y="1513.1" font-size="28" textLength="292.64" lengthAdjust="spacingAndGlyphs">Fallback default values</text>
<text x="743.28" y="1553.3" font-size="28" textLength="426.98" lengthAdjust="spacingAndGlyphs">Self-profiting reporting behaviour</text>
<text x="743.16" y="1593.4" font-size="28" textLength="540.41" lengthAdjust="spacingAndGlyphs">Cradle-to-border life-cycle GHG emissions</text>
<path d="M702.6 1464.8H730.9" stroke="#584e96" stroke-width="4.8"/>
<path d="M702.6 1504.9H730.9" stroke="#7e72b8" stroke-opacity="0.8" stroke-width="4.8"/>
<rect x="704" y="1532.2" width="25.4" height="25.4" fill="#b5abc4" stroke="#c4bcd0" stroke-width="1"/>
<path d="M704.6 1585.3H730.9" stroke="#8a8a8a" stroke-width="5" stroke-dasharray="4.6 2.1"/>
</g>
</svg></body></html>
